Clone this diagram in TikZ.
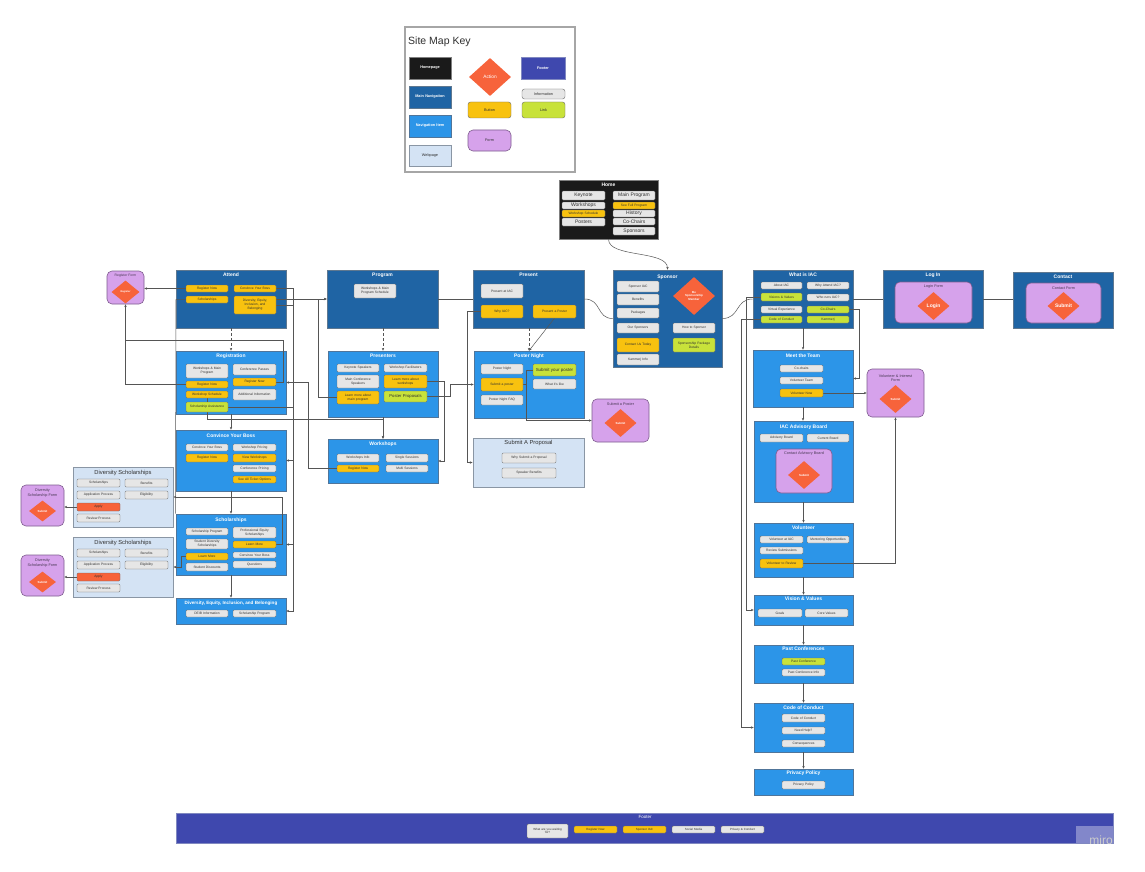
\documentclass[tikz,border=0pt]{standalone}
\usepackage{fontspec}
\setmainfont{Liberation Sans}
\usetikzlibrary{shapes.geometric,arrows.meta,calc}
\definecolor{cnavd}{HTML}{1F64A4}
\definecolor{cnavdb}{HTML}{5F7890}
\definecolor{cnavi}{HTML}{2C95E8}
\definecolor{cnavib}{HTML}{50759A}
\definecolor{cweb}{HTML}{D4E3F4}
\definecolor{cwebb}{HTML}{8A96A4}
\definecolor{cbtn}{HTML}{F8C20F}
\definecolor{clnk}{HTML}{C8E23A}
\definecolor{cinfo}{HTML}{E6E6E6}
\definecolor{citmb}{HTML}{6A6A6A}
\definecolor{cfrm}{HTML}{D6A2EB}
\definecolor{cfrmb}{HTML}{7E5C8E}
\definecolor{cact}{HTML}{F7633B}
\definecolor{cfoot}{HTML}{3F48AE}
\definecolor{cfootb}{HTML}{8088C0}
\definecolor{chome}{HTML}{1A1A1A}
\definecolor{cline}{HTML}{555555}
\definecolor{ctxt}{HTML}{303030}
\definecolor{cftxt}{HTML}{4A3A55}
\newcommand\fntI{\fontsize{3.3}{3.9}\selectfont}
\newcommand\fntT{\fontsize{5}{5.8}\selectfont\bfseries}
\newcommand\fntW{\fontsize{5.8}{6.8}\selectfont}
\newcommand\fntF{\fontsize{3.8}{4.5}\selectfont}
\newcommand\fntD{\fontsize{2.9}{3.4}\selectfont\bfseries}
\newcommand\fntH{\fontsize{5}{6}\selectfont}
\newcommand\fntK{\fontsize{3.8}{4.5}\selectfont\bfseries}
\pgfdeclarelayer{pages}
\pgfdeclarelayer{lines}
\pgfsetlayers{pages,lines,main}
\newcommand\bx[7]{%
 \pgfmathsetmacro\bxw{#5-#3}\pgfmathsetmacro\bxh{#6-#4}%
 \pgfmathsetmacro\bxcx{(#3+#5)/2}\pgfmathsetmacro\bxcy{(#4+#6)/2}%
 \pgfmathsetmacro\bxtw{max(#5-#3-2,1)}%
 \node[#2, minimum width=\bxw pt, minimum height=\bxh pt, text width=\bxtw pt, inner sep=0pt] (#1) at (\bxcx,\bxcy) {#7};}
\newcommand\dm[7]{\node[dia, minimum width=#4pt, minimum height=#5pt, #6] (#1) at (#2,#3) {#7};}
\newcommand\ttl[5]{\node[#4] (#1) at (#2,#3) {#5};}
\begin{document}
\begin{tikzpicture}[x=1pt,y=-1pt,
 pg/.style={inner sep=0, line width=0.6pt, align=center},
 pnavd/.style={pg, fill=cnavd, draw=cnavdb},
 pnavi/.style={pg, fill=cnavi, draw=cnavib},
 pweb/.style={pg, fill=cweb, draw=cwebb, line width=0.9pt},
 pfrm/.style={pg, fill=cfrm, draw=cfrmb, rounded corners=5pt},
 pfoot/.style={pg, fill=cfoot, draw=cfootb},
 phome/.style={pg, fill=chome, draw=gray},
 itm/.style={fill=cinfo, draw=citmb, line width=0.4pt, rounded corners=1.2pt, font=\fntI, text=ctxt, align=center},
 btn/.style={itm, fill=cbtn},
 lnk/.style={itm, fill=clnk},
 act/.style={itm, fill=cact},
 ttlw/.style={font=\fntT, text=white, inner sep=0},
 ttld/.style={font=\fntW, text=ctxt, inner sep=0},
 ttlf/.style={font=\fntF, text=cftxt, inner sep=0, align=center},
 dia/.style={diamond, fill=cact, inner sep=0, text=white, font=\fntD, align=center},
 conn/.style={draw=cline, line width=0.5pt, -{Stealth[length=2.8pt,width=2.4pt]}},
 connp/.style={draw=cline, line width=0.5pt}
]
\useasboundingbox (0,0) rectangle (1145,872);

% ================= PAGES LAYER =================
\begin{pgfonlayer}{pages}
\fill[white] (0,0) rectangle (1145,872);
\bx{key}{pg, fill=white, draw=gray!70, line width=1.4pt}{405}{27}{575}{172}{}
\bx{home}{phome}{559}{180}{658}{239}{}
\bx{sponsor}{pnavd}{613}{270}{722}{367}{}
\bx{attend}{pnavd}{176}{270}{286}{328}{}
\bx{regform}{pfrm}{107}{271}{144}{304}{}
\bx{registration}{pnavi}{176}{351}{286}{414}{}
\bx{convince}{pnavi}{176}{430}{286}{491}{}
\bx{schol}{pnavi}{176}{514}{286}{575}{}
\bx{deib}{pnavi}{176}{598}{286}{624}{}
\bx{dsa}{pweb}{73}{467}{173}{527}{}
\bx{dsb}{pweb}{73}{537}{173}{597}{}
\bx{forma}{pfrm}{21}{485}{64}{526}{}
\bx{formb}{pfrm}{21}{555}{64}{596}{}
\bx{program}{pnavd}{327}{270}{438}{328}{}
\bx{presenters}{pnavi}{328}{351}{438}{417}{}
\bx{workshops}{pnavi}{328}{439}{438}{483}{}
\bx{present}{pnavd}{473}{270}{584}{328}{}
\bx{postern}{pnavi}{474}{351}{584}{418}{}
\bx{posterform}{pfrm}{592}{399}{649}{442}{}
\bx{proposal}{pweb}{473}{438}{584}{487}{}
\bx{whatis}{pnavd}{753}{270}{853}{328}{}
\bx{login}{pnavd}{883}{270}{983}{328}{}
\bx{loginform}{pfrm}{895}{282}{972}{323}{}
\bx{contact}{pnavd}{1013}{272}{1113}{328}{}
\bx{contactform}{pfrm}{1026}{283}{1101}{323}{}
\bx{meet}{pnavi}{753}{350}{853}{407}{}
\bx{volform}{pfrm}{867}{369}{924}{417}{}
\bx{advisory}{pnavi}{754}{421}{853}{502}{}
\bx{advform}{pfrm}{776}{449}{832}{493}{}
\bx{volunteer}{pnavi}{754}{523}{853}{577}{}
\bx{vision}{pnavi}{754}{595}{853}{625}{}
\bx{past}{pnavi}{754}{645}{853}{683}{}
\bx{coc}{pnavi}{754}{703}{853}{752}{}
\bx{privacy}{pnavi}{754}{769}{853}{795}{}
\bx{footer}{pfoot}{176}{813}{1113}{843}{}
\end{pgfonlayer}

% ================= KEY =================
\node[anchor=west, font=\fontsize{10.5}{12}\selectfont, text=ctxt, inner sep=0] (keytitle) at (408,42) {Site Map Key};
\bx{khome}{phome, font=\fntK, text=white}{409}{57}{451}{79}{Homepage}
\bx{kmain}{pnavd, font=\fntK, text=white}{409}{86}{451}{108}{Main Navigation}
\bx{knav}{pnavi, font=\fntK, text=white}{409}{115}{451}{137}{Navigation Item}
\bx{kweb}{pweb, font=\fntF, text=ctxt}{409}{145}{451}{166}{Webpage}
\dm{kaction}{490}{77}{42}{38}{font=\fontsize{4.8}{5.4}\selectfont}{Action}
\bx{kfooter}{pfoot, font=\fntK, text=white}{521}{57}{565}{79}{Footer}
\bx{kinfo}{itm, rounded corners=2.5pt, font=\fntF}{522}{89}{565}{99}{Information}
\bx{kbutton}{btn, rounded corners=2.5pt, font=\fntF}{468}{102}{511}{118}{Button}
\bx{klink}{lnk, rounded corners=2.5pt, font=\fntF}{522}{102}{565}{118}{Link}
\bx{kform}{pfrm, font=\fntF, text=ctxt}{468}{130}{511}{151}{Form}

% ================= HOME =================
\ttl{home-t}{608.5}{185}{ttlw}{Home}
\bx{h1}{itm, font=\fntH}{562}{191}{605}{200}{Keynote}
\bx{h2}{itm, font=\fntH}{562}{202}{605}{209}{Workshops}
\bx{h3}{btn}{562}{210}{605}{217}{Workshop Schedule}
\bx{h4}{itm, font=\fntH}{562}{218}{605}{226}{Posters}
\bx{h5}{itm, font=\fntH}{613}{191}{655}{200}{Main Program}
\bx{h6}{btn}{613}{202}{655}{209}{See Full Program}
\bx{h7}{itm, font=\fntH}{613}{210}{655}{217}{History}
\bx{h8}{itm, font=\fntH}{613}{218}{655}{225}{Co-Chairs}
\bx{h9}{itm, font=\fntH}{613}{227}{655}{235}{Sponsors}

% ================= SPONSOR =================
\ttl{sponsor-t}{667.5}{277}{ttlw}{Sponsor}
\bx{s1}{itm}{617}{281}{659}{292}{Sponsor IAC}
\bx{s2}{itm}{617}{294}{659}{305}{Benefits}
\bx{s3}{itm}{617}{308}{659}{318}{Packages}
\bx{s4}{itm}{617}{323}{659}{333}{Our Sponsors}
\bx{s5}{btn}{617}{338}{659}{352}{Contact Us Today}
\bx{s6}{itm}{617}{354}{659}{365}{Kammerj Info}
\dm{sdia}{694}{296}{42}{38}{}{Be\\Sponsorship\\Member}
\bx{s7}{itm}{673}{323}{715}{333}{How to Sponsor}
\bx{s8}{lnk}{673}{338}{715}{352}{Sponsorship Package\\Details}

% ================= ATTEND =================
\ttl{attend-t}{231}{275}{ttlw}{Attend}
\bx{a1}{btn}{186}{285}{228}{292}{Register Now}
\bx{a2}{btn}{186}{296}{228}{303}{Scholarships}
\bx{a3}{btn}{234}{285}{276}{292}{Convince Your Boss}
\bx{a4}{btn}{234}{296}{276}{314}{Diversity, Equity,\\Inclusion, and\\Belonging}

\ttl{regform-t}{125.5}{276}{ttlf, font=\fontsize{3.4}{4}\selectfont}{Register Form}
\dm{regdia}{125.5}{292}{28}{23}{font=\fontsize{2.5}{3}\selectfont\bfseries}{Register}

% ================= REGISTRATION =================
\ttl{registration-t}{231}{356}{ttlw}{Registration}
\bx{r1}{itm}{186}{364}{228}{378}{Workshops \& Main\\Program}
\bx{r2}{btn}{186}{381}{228}{388}{Register Now}
\bx{r3}{btn}{186}{391}{228}{398}{Workshop Schedule}
\bx{r4}{lnk}{186}{402}{228}{412}{Scholarship Assistance}
\bx{r5}{itm}{233}{364}{276}{375}{Conference Passes}
\bx{r6}{btn}{233}{378}{276}{386}{Register Now}
\bx{r7}{itm}{233}{389}{276}{400}{Additional Information}

% ================= CONVINCE =================
\ttl{convince-t}{231}{436}{ttlw}{Convince Your Boss}
\bx{c1}{itm}{186}{444}{228}{451}{Convince Your Boss}
\bx{c2}{btn}{186}{454}{228}{462}{Register Now}
\bx{c3}{itm}{233}{444}{276}{451}{Workshop Pricing}
\bx{c4}{btn}{233}{454}{276}{462}{View Workshops}
\bx{c5}{itm}{233}{465}{276}{472}{Conference Pricing}
\bx{c6}{btn}{233}{476}{276}{483}{See All Ticket Options}

% ================= SCHOLARSHIPS =================
\ttl{schol-t}{231}{520}{ttlw}{Scholarships}
\bx{sc1}{itm}{186}{528}{228}{535}{Scholarship Program}
\bx{sc2}{itm}{186}{539}{228}{549}{Student Diversity\\Scholarships}
\bx{sc3}{btn}{186}{553}{228}{560}{Learn More}
\bx{sc4}{itm}{186}{563}{228}{571}{Student Discounts}
\bx{sc5}{itm}{233}{527}{276}{538}{Professional Equity\\Scholarships}
\bx{sc6}{btn}{233}{541}{276}{548}{Learn More}
\bx{sc7}{itm}{233}{552}{276}{558}{Convince Your Boss}
\bx{sc8}{itm}{233}{561}{276}{568}{Questions}

% ================= DEIB =================
\ttl{deib-t}{231}{603}{ttlw, font=\fontsize{4.6}{5.2}\selectfont\bfseries}{Diversity, Equity, Inclusion, and Belonging}
\bx{d1}{itm}{186}{610}{228}{617}{DEIB Information}
\bx{d2}{itm}{233}{610}{276}{617}{Scholarship Program}

% ================= DIVERSITY SCHOLARSHIPS =================
\ttl{dsa-t}{123}{473}{ttld}{Diversity Scholarships}
\bx{dsa1}{itm}{77}{479}{120}{487}{Scholarships}
\bx{dsa2}{itm}{77}{491}{120}{499}{Application Process}
\bx{dsa3}{act}{77}{503}{120}{511}{Apply}
\bx{dsa4}{itm}{77}{514}{120}{522}{Review Process}
\bx{dsa5}{itm}{125}{479}{168}{487}{Benefits}
\bx{dsa6}{itm}{125}{491}{168}{499}{Eligibility}

\ttl{dsb-t}{123}{543}{ttld}{Diversity Scholarships}
\bx{dsb1}{itm}{77}{549}{120}{557}{Scholarships}
\bx{dsb2}{itm}{77}{561}{120}{569}{Application Process}
\bx{dsb3}{act}{77}{573}{120}{581}{Apply}
\bx{dsb4}{itm}{77}{584}{120}{592}{Review Process}
\bx{dsb5}{itm}{125}{549}{168}{557}{Benefits}
\bx{dsb6}{itm}{125}{561}{168}{569}{Eligibility}

\ttl{forma-t}{42.5}{493}{ttlf}{Diversity\\Scholarship Form}
\dm{diaa}{42.5}{511}{27}{21}{}{Submit}
\ttl{formb-t}{42.5}{563}{ttlf}{Diversity\\Scholarship Form}
\dm{diab}{42.5}{582}{27}{21}{}{Submit}

% ================= PROGRAM =================
\ttl{program-t}{382.5}{275}{ttlw}{Program}
\bx{p1}{itm}{354}{284}{396}{298}{Workshops \& Main\\Program Schedule}

\ttl{presenters-t}{383}{356}{ttlw}{Presenters}
\bx{pr1}{itm}{337}{364}{379}{372}{Keynote Speakers}
\bx{pr2}{itm}{337}{375}{379}{388}{Main Conference\\Speakers}
\bx{pr3}{btn}{337}{391}{379}{404}{Learn more about\\main program}
\bx{pr4}{itm}{384}{364}{427}{372}{Workshop Facilitators}
\bx{pr5}{btn}{384}{375}{427}{388}{Learn more about\\workshops}
\bx{pr6}{lnk, font=\fontsize{4.2}{5}\selectfont}{384}{391}{427}{402}{Poster Proposals}

\ttl{workshops-t}{383}{444}{ttlw}{Workshops}
\bx{w1}{itm}{337}{454}{379}{462}{Workshops Info}
\bx{w2}{btn}{337}{465}{379}{472}{Register Now}
\bx{w3}{itm}{386}{454}{428}{462}{Single Sessions}
\bx{w4}{itm}{386}{465}{428}{472}{Multi Sessions}

% ================= PRESENT =================
\ttl{present-t}{528.5}{275}{ttlw}{Present}
\bx{pe1}{itm}{481}{284}{523}{298}{Present at IAC}
\bx{pe2}{btn}{481}{305}{523}{318}{Why IAC?}
\bx{pe3}{btn}{533}{305}{576}{318}{Present a Poster}

\ttl{postern-t}{529}{356}{ttlw}{Poster Night}
\bx{pn1}{itm}{481}{364}{523}{374}{Poster Night}
\bx{pn2}{btn}{481}{378}{523}{391}{Submit a poster}
\bx{pn3}{itm}{481}{395}{523}{405}{Poster Night FAQ}
\bx{pn4}{lnk, font=\fontsize{4.4}{5}\selectfont}{533}{364}{576}{376}{Submit your poster}
\bx{pn5}{itm}{533}{379}{576}{389}{What it's like}

\ttl{posterform-t}{620.5}{404}{ttlf}{Submit a Poster}
\dm{posterdia}{620.5}{423}{32}{28}{}{Submit}

\ttl{proposal-t}{528.5}{443}{ttld}{Submit A Proposal}
\bx{sp1}{itm}{502}{453}{556}{463}{Why Submit a Proposal}
\bx{sp2}{itm}{502}{468}{556}{478}{Speaker Benefits}

% ================= WHAT IS IAC =================
\ttl{whatis-t}{803}{275}{ttlw}{What is IAC}
\bx{wi1}{itm}{761}{282}{802}{289}{About IAC}
\bx{wi2}{lnk}{761}{293}{802}{301}{Visions \& Values}
\bx{wi3}{itm}{761}{306}{802}{313}{Virtual Experience}
\bx{wi4}{lnk}{761}{316}{802}{323}{Code of Conduct}
\bx{wi5}{itm}{807}{282}{849}{289}{Why Attend IAC?}
\bx{wi6}{itm}{807}{294}{849}{301}{Who runs IAC?}
\bx{wi7}{lnk}{807}{306}{849}{313}{Co-Chairs}
\bx{wi8}{lnk}{807}{316}{849}{323}{Kammerj}

\ttl{login-t}{933}{275}{ttlw}{Log In}
\ttl{loginform-t}{933.5}{287}{ttlf}{Login Form}
\dm{logindia}{933.5}{306}{32}{28}{font=\fontsize{5}{6}\selectfont\bfseries}{Login}

\ttl{contact-t}{1063}{277}{ttlw}{Contact}
\ttl{contactform-t}{1063.5}{288}{ttlf}{Contact Form}
\dm{contactdia}{1063.5}{306}{32}{28}{font=\fontsize{5}{6}\selectfont\bfseries}{Submit}

% ================= RIGHT COLUMN =================
\ttl{meet-t}{803}{356}{ttlw}{Meet the Team}
\bx{mt1}{itm}{780}{365}{823}{372}{Co-chairs}
\bx{mt2}{itm}{780}{377}{823}{384}{Volunteer Team}
\bx{mt3}{btn}{780}{389}{823}{397}{Volunteer Now}

\ttl{volform-t}{895.5}{378}{ttlf}{Volunteer \& Interest\\Form}
\dm{voldia}{895.5}{399}{32}{28}{}{Submit}

\ttl{advisory-t}{803.5}{427}{ttlw}{IAC Advisory Board}
\bx{ab1}{itm}{760}{434}{803}{442}{Advisory Board}
\bx{ab2}{itm}{807}{434}{849}{442}{Current Board}
\ttl{advform-t}{804}{454}{ttlf}{Contact Advisory Board}
\dm{advdia}{804}{475}{32}{28}{}{Submit}

\ttl{volunteer-t}{803.5}{528}{ttlw}{Volunteer}
\bx{v1}{itm}{760}{536}{803}{543}{Volunteer at IAC}
\bx{v2}{itm}{807}{536}{849}{543}{Mentoring Opportunities}
\bx{v3}{itm}{760}{547}{803}{554}{Review Submissions}
\bx{v4}{btn}{760}{559}{803}{568}{Volunteer to Review}

\ttl{vision-t}{803.5}{599}{ttlw}{Vision \& Values}
\bx{vv1}{itm}{758}{609}{802}{617}{Goals}
\bx{vv2}{itm}{805}{609}{848}{617}{Core Values}

\ttl{past-t}{803.5}{649}{ttlw}{Past Conferences}
\bx{pc1}{lnk}{782}{658}{825}{665}{Past Conference}
\bx{pc2}{itm}{782}{669}{825}{676}{Past Conference Info}

\ttl{coc-t}{803.5}{708}{ttlw}{Code of Conduct}
\bx{cc1}{itm}{782}{714}{825}{722}{Code of Conduct}
\bx{cc2}{itm}{782}{727}{825}{734}{Need Help?}
\bx{cc3}{itm}{782}{740}{825}{747}{Consequences}

\ttl{privacy-t}{803.5}{773}{ttlw}{Privacy Policy}
\bx{pp1}{itm}{782}{781}{825}{789}{Privacy Policy}

% ================= FOOTER =================
\ttl{footer-t}{645}{817}{ttlw, font=\fontsize{4.5}{5}\selectfont}{Footer}
\bx{f1}{itm, font=\fontsize{3}{3.6}\selectfont}{527}{824}{568}{838}{What are you waiting\\for?}
\bx{f2}{btn, font=\fontsize{3}{3.6}\selectfont}{574}{826}{617}{833}{Register Now}
\bx{f3}{btn, font=\fontsize{3}{3.6}\selectfont}{623}{826}{666}{833}{Sponsor IAC}
\bx{f4}{itm, font=\fontsize{3}{3.6}\selectfont}{672}{826}{715}{833}{Social Media}
\bx{f5}{itm, font=\fontsize{3}{3.6}\selectfont}{721}{826}{764}{833}{Privacy \& Conduct}
\bx{mirobox}{fill=white, fill opacity=0.35, draw=none}{1076}{826}{1113}{843}{}
\node[text=gray!40, font=\fontsize{12}{13}\selectfont, inner sep=0] (miro) at (1101,840) {miro};

% ================= CONNECTORS =================
\begin{pgfonlayer}{lines}
\draw[conn] (home.south) .. controls (608.5,258) and (667.5,250) .. (sponsor.north);
\draw[conn] (a4.east |- program.west) -- (program.west);
\draw[conn] (pr3.west) -- ++(-19,0) |- (program.west);
\draw[connp] (program.east) -- (present.west);
\draw[connp] (present.east) .. controls (602,299) and (596,318.5) .. (sponsor.west);
\draw[connp] (sponsor.east) .. controls (740,318.5) and (735,299) .. (whatis.west);
\draw[connp] (whatis.east) -- (login.west);
\draw[connp] (login.east) -- (login.east -| contact.west);
% attend column
\draw[conn] (a1.west) -- (a1.west -| regform.east);
\draw[conn] (r2.west) -| (regform.south);
\draw[connp] (r6.east) -- ++(7,0) |- ($(regform.south)+(0,36)$);
\draw[conn, densely dashed] (attend.south) -- (registration.north);
\draw[conn] (registration.south) -- (convince.north);
\draw[conn] (convince.south) -- (schol.north);
\draw[conn] (schol.south) -- (deib.north);
\draw[connp] (a2.west) -- ++(-10,0) -- (schol.north west);
\draw[conn] (a3.east) -- ++(17,0) |- (convince.east);
\draw[conn] (r4.east) -- ++(65,0) |- (schol.east);
\draw[conn] (a4.east) -- ++(17,0) |- (deib.east);
\draw[conn] (sc6.east) -- ++(6,0) |- (dsa.east);
\draw[conn] (sc3.west) -- ++(-5,0) |- (dsb.east);
\draw[conn] (dsa3.west) -- (dsa3.west -| forma.east);
\draw[conn] (dsb3.west) -- (dsb3.west -| formb.east);
\draw[conn] (r3.south) |- ($(workshops.north)+(0,-19)$) -- (workshops.north);
\draw[conn] (w2.west) -- ++(-29,0) |- (registration.east);
% program column
\draw[conn, densely dashed] (presenters.north |- program.south) -- (presenters.north);
\draw[conn] (presenters.south) -- (workshops.north);
\draw[conn] (pr5.east) -- ++(17,0) |- (workshops.east);
\draw[conn] (pr6.east) -- ++(23,0) |- (postern.west);
% present column
\draw[conn] (pe2.west) -- ++(-14,0) |- (proposal.west);
\draw[conn, densely dashed] (postern.north |- present.south) -- (postern.north);
\draw[conn] (pe3.south) -- (postern.north);
\draw[conn] (pn2.east) -- ++(3,0) |- (posterform.west);
\draw[connp] (pn4.west) -| ($(pn2.east)+(3,0)$);
% what is IAC column
\draw[conn] (whatis.south) -- (meet.north);
\draw[conn] (meet.south) -- (meet.south |- advisory.north);
\draw[conn] (advisory.south) -- (volunteer.north);
\draw[conn] (volunteer.south) -- (vision.north);
\draw[conn] (vision.south) -- (past.north);
\draw[conn] (past.south) -- (coc.north);
\draw[conn] (coc.south) -- (privacy.north);
\draw[conn] (wi7.east) -- ++(10,0) |- (meet.east);
\draw[conn] (mt3.east) -- (mt3.east -| volform.west);
\draw[conn] (v4.east) -| (volform.south);
\draw[conn] (wi2.west) -- ++(-15,0) |- (vision.west);
\draw[conn] (wi4.west) -- ++(-20,0) |- (coc.west);
\end{pgfonlayer}
\end{tikzpicture}
\end{document}
